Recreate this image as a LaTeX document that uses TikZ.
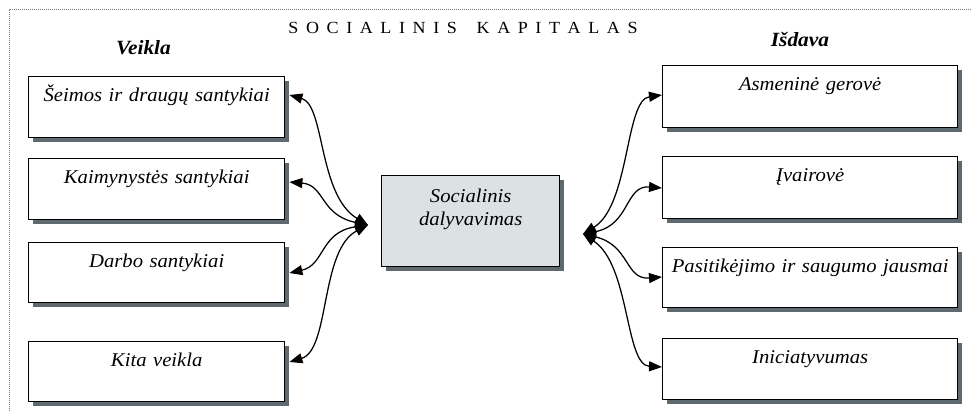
\documentclass[tikz,border=0pt]{standalone}
\usepackage{fontspec}
\setmainfont{Liberation Serif}[FakeStretch=1.06]
\usetikzlibrary{arrows.meta,shadows}
\definecolor{shadowgray}{HTML}{5E6A70}
\definecolor{hubfill}{HTML}{DCE1E3}
\definecolor{framegray}{HTML}{7A7A7A}
\newcommand\tk{\kern7.6pt}
\begin{document}
\begin{tikzpicture}[x=1pt,y=-1pt,
  box/.style={draw=black, line width=1.4pt, fill=white, inner sep=0pt,
    align=center, text height=24.5pt, anchor=north west,
    font=\fontsize{19.5}{23}\selectfont\itshape,
    drop shadow={shadow xshift=4pt, shadow yshift=-4pt, fill=shadowgray, opacity=1}},
  link/.style={line width=1.25pt,
    {Triangle[length=13pt,width=10pt]}-{Triangle[length=13pt,width=10pt]}},
  head/.style={font=\fontsize{20.2}{22}\selectfont\bfseries\itshape, anchor=base}]
\useasboundingbox (0,0) rectangle (972,411);

% dotted frame
\draw[framegray, densely dotted, line width=1pt] (9,411) -- (9,10) -- (972,10);

% headings
\node[font=\fontsize{17}{20}\selectfont, anchor=base] (title) at (463,34)
  {S\tk O\tk C\tk I\tk A\tk L\tk I\tk N\tk I\tk S\tk\ \tk K\tk A\tk P\tk I\tk T\tk A\tk L\tk A\tk S};
\node[head] (veikla) at (143.5,55) {Veikla};
\node[head] (isdava) at (800,47) {Išdava};

% left column
\node[box, text width=256pt, text depth=36.5pt] (l1) at (28,76)  {Šeimos ir draugų santykiai};
\node[box, text width=256pt, text depth=36.5pt] (l2) at (28,158) {Kaimynystės santykiai};
\node[box, text width=256pt, text depth=35.5pt] (l3) at (28,242) {Darbo santykiai};
\node[box, text width=256pt, text depth=35.5pt] (l4) at (28,341) {Kita veikla};

% central box
\node[box, fill=hubfill, text width=178pt, text height=27pt, text depth=64pt] (c) at (381,175)
  {Socialinis\\dalyvavimas};

% right column
\node[box, text width=295pt, text depth=37.5pt] (r1) at (662,65)  {Asmeninė gerovė\hspace*{59pt}};
\node[box, text width=295pt, text depth=37.5pt] (r2) at (662,156) {Įvairovė\hspace*{31pt}};
\node[box, text width=295pt, text depth=35.5pt] (r3) at (662,247) {Pasitikėjimo ir saugumo jausmai};
\node[box, text width=295pt, text depth=36.5pt] (r4) at (662,338) {Iniciatyvumas};

% hubs in front of the central box
\coordinate (lhub) at (368,225);
\coordinate (rhub) at (583,234);

% left connectors
\draw[link] ([shift={(4,19)}]l1.north east) .. controls (325,105) and (318,195) .. (lhub);
\draw[link] ([shift={(4,24)}]l2.north east) .. controls (325,185) and (320,215) .. (lhub);
\draw[link] ([shift={(4,31)}]l3.north east) .. controls (325,265) and (320,232) .. (lhub);
\draw[link] ([shift={(4,21)}]l4.north east) .. controls (330,350) and (320,250) .. (lhub);

% right connectors
\draw[link] (rhub) .. controls (630,205) and (625,100) .. ([shift={(0,30)}]r1.north west);
\draw[link] (rhub) .. controls (630,225) and (625,185) .. ([shift={(0,32)}]r2.north west);
\draw[link] (rhub) .. controls (630,245) and (625,280) .. ([shift={(0,30)}]r3.north west);
\draw[link] (rhub) .. controls (630,265) and (625,365) .. ([shift={(0,29)}]r4.north west);
\end{tikzpicture}
\end{document}
